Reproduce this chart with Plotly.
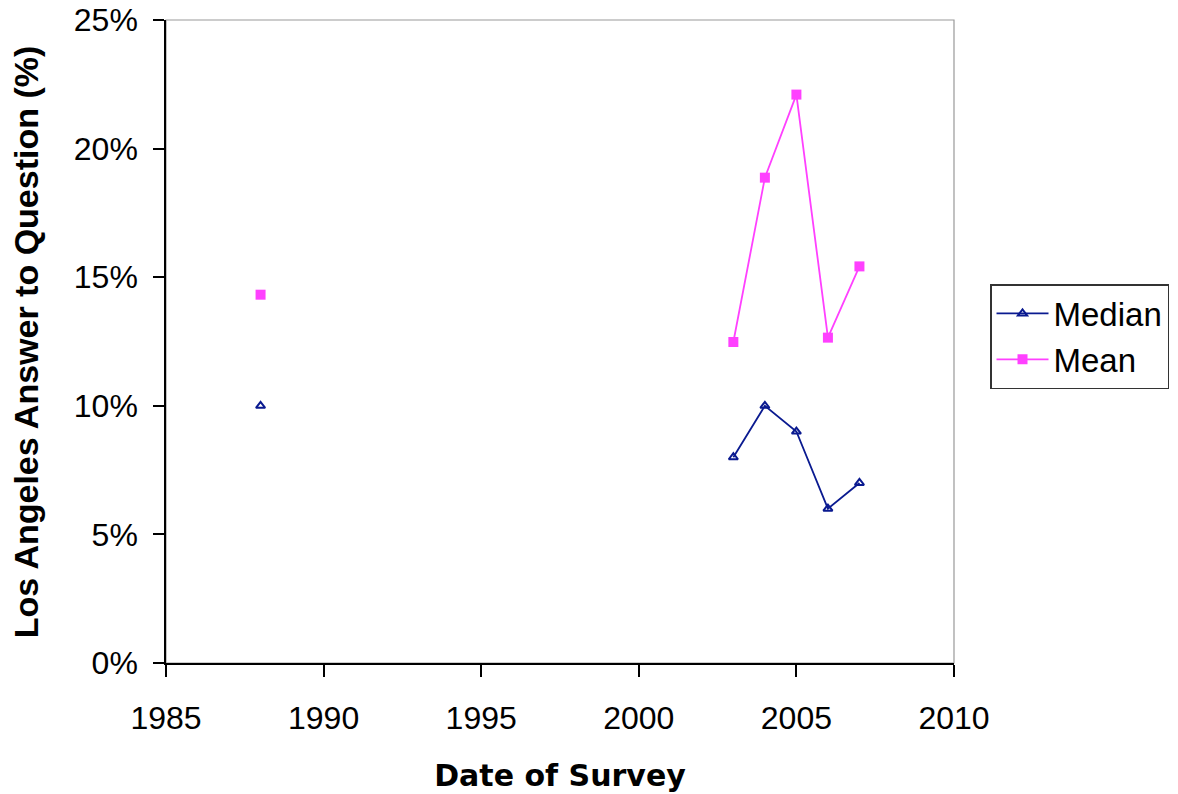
import plotly.graph_objects as go

years = [1988, None, 2003, 2004, 2005, 2006, 2007]
median = [0.10, None, 0.08, 0.10, 0.09, 0.06, 0.07]
mean = [0.1432, None, 0.1248, 0.1887, 0.2210, 0.1265, 0.1542]

fig = go.Figure()
fig.add_trace(go.Scatter(
    x=years, y=median, name="Median", mode="lines+markers",
    connectgaps=False,
    line=dict(color="#0A1A90", width=1.8),
    marker=dict(symbol="triangle-up-open", size=8, color="#0A1A90",
                line=dict(color="#0A1A90", width=2)),
))
fig.add_trace(go.Scatter(
    x=years, y=mean, name="Mean", mode="lines+markers",
    connectgaps=False,
    line=dict(color="#FF40FF", width=1.8),
    marker=dict(symbol="square", size=10, color="#FF40FF"),
))

fig.add_shape(type="rect", xref="paper", yref="paper", x0=0, y0=0, x1=1, y1=1,
              line=dict(color="#999999", width=1.2), layer="below")

font = "Liberation Sans, Arial, sans-serif"
fig.add_annotation(
    text="<b>Los Angeles Answer to Question (%)</b>",
    xref="paper", yref="paper", x=-0.178, y=0.5,
    xanchor="center", yanchor="middle", textangle=-90, showarrow=False,
    font=dict(size=34, family=font, color="black"),
)

fig.update_layout(
    width=1178, height=794,
    margin=dict(l=158, r=232, t=12, b=139, autoexpand=False),
    paper_bgcolor="white", plot_bgcolor="white",
    font=dict(family=font, color="black"),
    showlegend=True,
    legend=dict(
        x=1.0457, y=0.5894, xanchor="left", yanchor="top",
        bordercolor="#333333", borderwidth=1.5,
        font=dict(size=33, family=font),
        bgcolor="white", tracegroupgap=6, itemwidth=52,
    ),
    xaxis=dict(
        range=[1985, 2010], tickmode="array",
        tickvals=[1985, 1990, 1995, 2000, 2005, 2010],
        showgrid=False, zeroline=False, automargin=False,
        showline=True, linecolor="black", linewidth=1.5,
        ticks="outside", ticklen=12, tickcolor="black", tickwidth=1.5,
        ticklabelstandoff=14, ticklabeloverflow="allow",
        tickfont=dict(size=32, family=font),
        title=dict(text="<b>Date of Survey</b>",
                   font=dict(size=30, family="DejaVu Sans, sans-serif"), standoff=30),
    ),
    yaxis=dict(
        range=[0, 0.25], tickmode="array",
        tickvals=[0, 0.05, 0.10, 0.15, 0.20, 0.25],
        tickformat=".0%",
        showgrid=False, zeroline=False, automargin=False,
        showline=True, linecolor="black", linewidth=1.5,
        ticks="outside", ticklen=11, tickcolor="black", tickwidth=1.5,
        ticklabelstandoff=9, ticklabeloverflow="allow",
        tickfont=dict(size=32, family=font),
    ),
)

fig.write_html("out.html")
